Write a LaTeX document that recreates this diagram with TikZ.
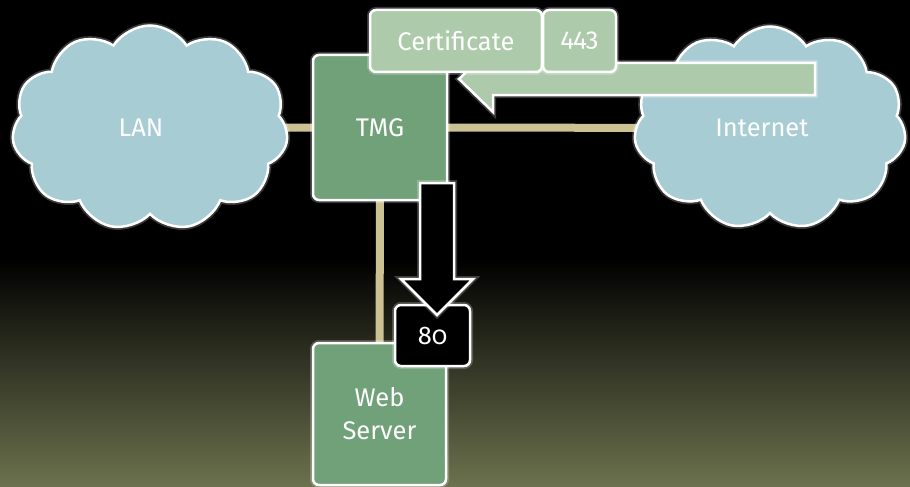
\documentclass[tikz,border=0pt]{standalone}
\usepackage{fontspec}
\setmainfont{Fira Sans}[Numbers=OldStyle]
\usetikzlibrary{shapes.symbols}
\definecolor{bgolive}{RGB}{108,114,78}
\definecolor{linktan}{RGB}{203,194,147}
\definecolor{cloudblue}{RGB}{168,204,212}
\definecolor{boxgreen}{RGB}{113,161,121}
\definecolor{lightgreen}{RGB}{173,203,171}
\pgfdeclarelayer{backdrop}
\pgfdeclarelayer{bg}
\pgfsetlayers{backdrop,bg,main}
\begin{document}
\begin{tikzpicture}[x=1pt,y=-1pt,
  glow/.style={preaction={draw=white,line width=6pt,opacity=0.22}},
  lbl/.style={text=white,font=\fontsize{25.5}{33}\selectfont},
  cloudnode/.style={cloud,cloud puffs=11,cloud puff arc=115,cloud ignores aspect,
    fill=cloudblue,draw=white,line width=2.5pt,glow,lbl,inner sep=0pt},
  box/.style={draw=white,line width=2.5pt,rounded corners=6pt,glow,lbl,align=center,inner sep=0pt},
  link/.style={line width=8pt,draw=linktan},
  blockarrow/.style={draw=white,line width=2.5pt,line join=miter,glow}
]
\useasboundingbox (0,0) rectangle (910,487);
\begin{pgfonlayer}{backdrop}
\fill[black] (0,0) rectangle (910,487);
\fill[top color=black,bottom color=bgolive] (0,258) rectangle (910,487);
\end{pgfonlayer}

\node[cloudnode,minimum width=276pt,minimum height=205pt] (lan) at (150,128) {\hspace*{-18pt}LAN};
\node[cloudnode,minimum width=272pt,minimum height=203pt] (inet) at (770,128) {\hspace*{-16pt}Internet};

\node[box,fill=boxgreen,minimum width=134pt,minimum height=145pt] (tmg) at (380,127.5) {TMG};
\node[box,fill=boxgreen,minimum width=133pt,minimum height=142pt] (web) at (379.5,414) {Web\\Server};

\begin{pgfonlayer}{bg}
  \draw[link] (lan.center) -- (tmg.center);
  \draw[link] (tmg.center) -- (inet.center);
  \draw[link] (tmg.center) -- (web.center);
\end{pgfonlayer}

\node[box,fill=black,minimum width=75pt,minimum height=61pt] (port80) at (432.5,335.5) {80};

% down arrow (TMG -> port 80)
\draw[blockarrow,fill=black] (420,183) -- (454,183) -- (454,279) -- (473,279) -- (437,315)
  -- (401,279) -- (420,279) -- cycle;

% left arrow (Internet -> TMG)
\draw[blockarrow,fill=lightgreen] (815,63) -- (493,63) -- (493,46) -- (459,79) -- (493,112)
  -- (493,95) -- (815,95) -- cycle;

\node[box,fill=lightgreen,minimum width=172pt,minimum height=62pt] (cert) at (456,41) {Certificate};
\node[box,fill=lightgreen,minimum width=73pt,minimum height=62pt] (p443) at (579.5,41) {443};
\end{tikzpicture}
\end{document}
